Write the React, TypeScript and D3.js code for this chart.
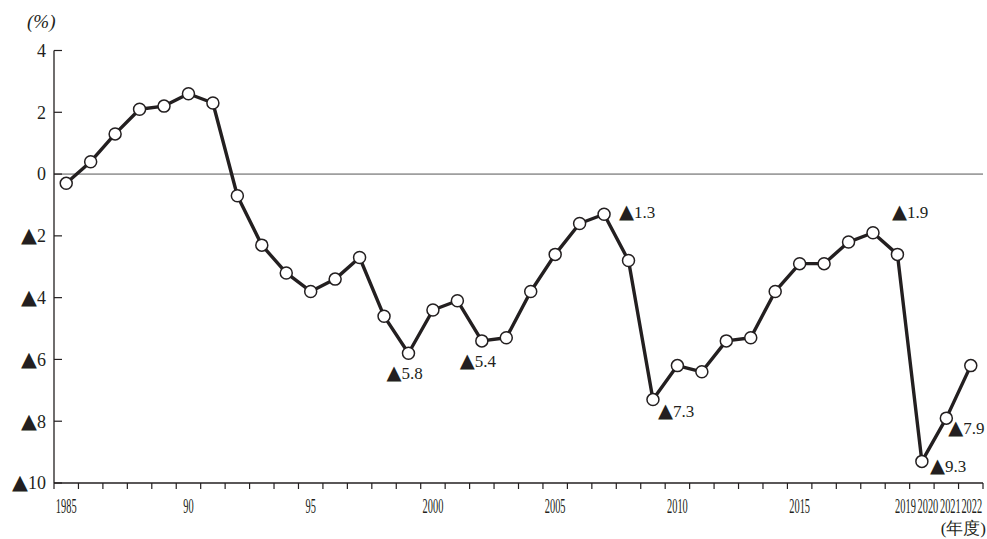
import React from "react";
import * as d3 from "d3";

// Fiscal years on the horizontal axis
const years: number[] = [
  1985, 1986, 1987, 1988, 1989, 1990, 1991, 1992, 1993, 1994,
  1995, 1996, 1997, 1998, 1999, 2000, 2001, 2002, 2003, 2004,
  2005, 2006, 2007, 2008, 2009, 2010, 2011, 2012, 2013, 2014,
  2015, 2016, 2017, 2018, 2019, 2020, 2021, 2022,
];

// Balance ratio (%) for each fiscal year
const values: number[] = [
  -0.3, 0.4, 1.3, 2.1, 2.2, 2.6, 2.3, -0.7, -2.3, -3.2,
  -3.8, -3.4, -2.7, -4.6, -5.8, -4.4, -4.1, -5.4, -5.3, -3.8,
  -2.6, -1.6, -1.3, -2.8, -7.3, -6.2, -6.4, -5.4, -5.3, -3.8,
  -2.9, -2.9, -2.2, -1.9, -2.6, -9.3, -7.9, -6.2,
];

// Labelled x-axis ticks and their text
const xTickYears: number[] = [1985, 1990, 1995, 2000, 2005, 2010, 2015, 2019, 2020, 2021, 2022];
const xTickText: string[] = ["1985", "90", "95", "2000", "2005", "2010", "2015", "2019", "2020", "2021", "2022"];

// Y-axis ticks
const yTicks: number[] = [4, 2, 0, -2, -4, -6, -8, -10];

// Years whose values are annotated
const annotatedYears: number[] = [1999, 2002, 2007, 2009, 2018, 2020, 2021];

const W = 987;
const H = 539;
const left = 54;
const right = 983;
const top = 50.5;
const bottom = 483;

const ink = "#231f20";
const serif = "'Liberation Serif', 'DejaVu Serif', serif";
const triFont = "'DejaVu Sans', sans-serif";

// Negative values are written with a black triangle instead of a minus sign
function Num({ v, size }: { v: number; size: number }) {
  if (v < 0) {
    return (
      <>
        <tspan fontFamily={triFont} fontSize={size * 1.15}>{"\u25B2"}</tspan>
        <tspan>{String(Math.abs(v))}</tspan>
      </>
    );
  }
  return <>{String(v)}</>;
}

// Placement of each value label relative to its point
const labelPlacement: Record<number, [number, number]> = {
  1999: [-22, 20],
  2002: [-22, 20],
  2007: [15, -2],
  2009: [5, 11],
  2018: [19, -21],
  2020: [8, 5],
  2021: [2, 10],
};

// Small spread for the crowded labels at the right end of the axis
const tickShift: Record<number, number> = { 2019: 8, 2020: 6, 2021: 4, 2022: 1 };

export default function App() {
  const x = d3.scaleBand<number>().domain(years).range([left, right]).padding(0);
  const bw = x.bandwidth();
  const cx = (yr: number) => (x(yr) as number) + bw / 2;
  const y = d3.scaleLinear().domain([-10, 4]).range([bottom, top]);

  const pts = years.map((yr, i) => ({ yr, v: values[i] }));
  const line = d3
    .line<{ yr: number; v: number }>()
    .x((d) => cx(d.yr))
    .y((d) => y(d.v));

  const boundaries = years.map((yr) => x(yr) as number).concat([right]);

  return (
    <svg
      width={W}
      height={H}
      style={{ position: "absolute", left: 0, top: 0, background: "#fff" }}
      fontFamily={serif}
    >
      {/* zero line */}
      <line x1={left} x2={right} y1={y(0)} y2={y(0)} stroke="#555" strokeWidth={1} />

      {/* y axis */}
      <line x1={left} x2={left} y1={top} y2={bottom} stroke={ink} strokeWidth={1.3} />
      {yTicks.map((t) => (
        <g key={t}>
          <line x1={left} x2={left + 8} y1={y(t)} y2={y(t)} stroke={ink} strokeWidth={1.2} />
          <text x={46} y={y(t)} dy="0.35em" textAnchor="end" fontSize={18} fill={ink}>
            <Num v={t} size={18} />
          </text>
        </g>
      ))}
      <text x={27} y={28} fontSize={19} fill={ink} fontStyle="italic">
        (%)
      </text>

      {/* x axis */}
      <line x1={left} x2={right} y1={bottom} y2={bottom} stroke={ink} strokeWidth={1.3} />
      {boundaries.map((bx, i) => (
        <line key={i} x1={bx} x2={bx} y1={bottom} y2={bottom + 6} stroke={ink} strokeWidth={1.2} />
      ))}
      {xTickYears.map((yr, i) => (
        <text
          key={yr}
          transform={`translate(${cx(yr) + (tickShift[yr] || 0)},${bottom + 30}) scale(0.52,1)`}
          textAnchor="middle"
          fontSize={20}
          fill={ink}
        >
          {xTickText[i]}
        </text>
      ))}
      <text x={986} y={534} textAnchor="end" fontSize={17} fill={ink}>
        (年度)
      </text>

      {/* series */}
      <path d={line(pts) || ""} fill="none" stroke={ink} strokeWidth={3.4} strokeLinejoin="round" />
      {pts.map((d) => (
        <circle key={d.yr} cx={cx(d.yr)} cy={y(d.v)} r={6} fill="#fff" stroke={ink} strokeWidth={1.5} />
      ))}

      {/* value labels */}
      {pts
        .filter((d) => annotatedYears.includes(d.yr))
        .map((d) => {
          const [dx, dy] = labelPlacement[d.yr];
          return (
            <text key={d.yr} x={cx(d.yr) + dx} y={y(d.v) + dy} dy="0.35em" fontSize={17} fill={ink}>
              <Num v={d.v} size={17} />
            </text>
          );
        })}
    </svg>
  );
}
